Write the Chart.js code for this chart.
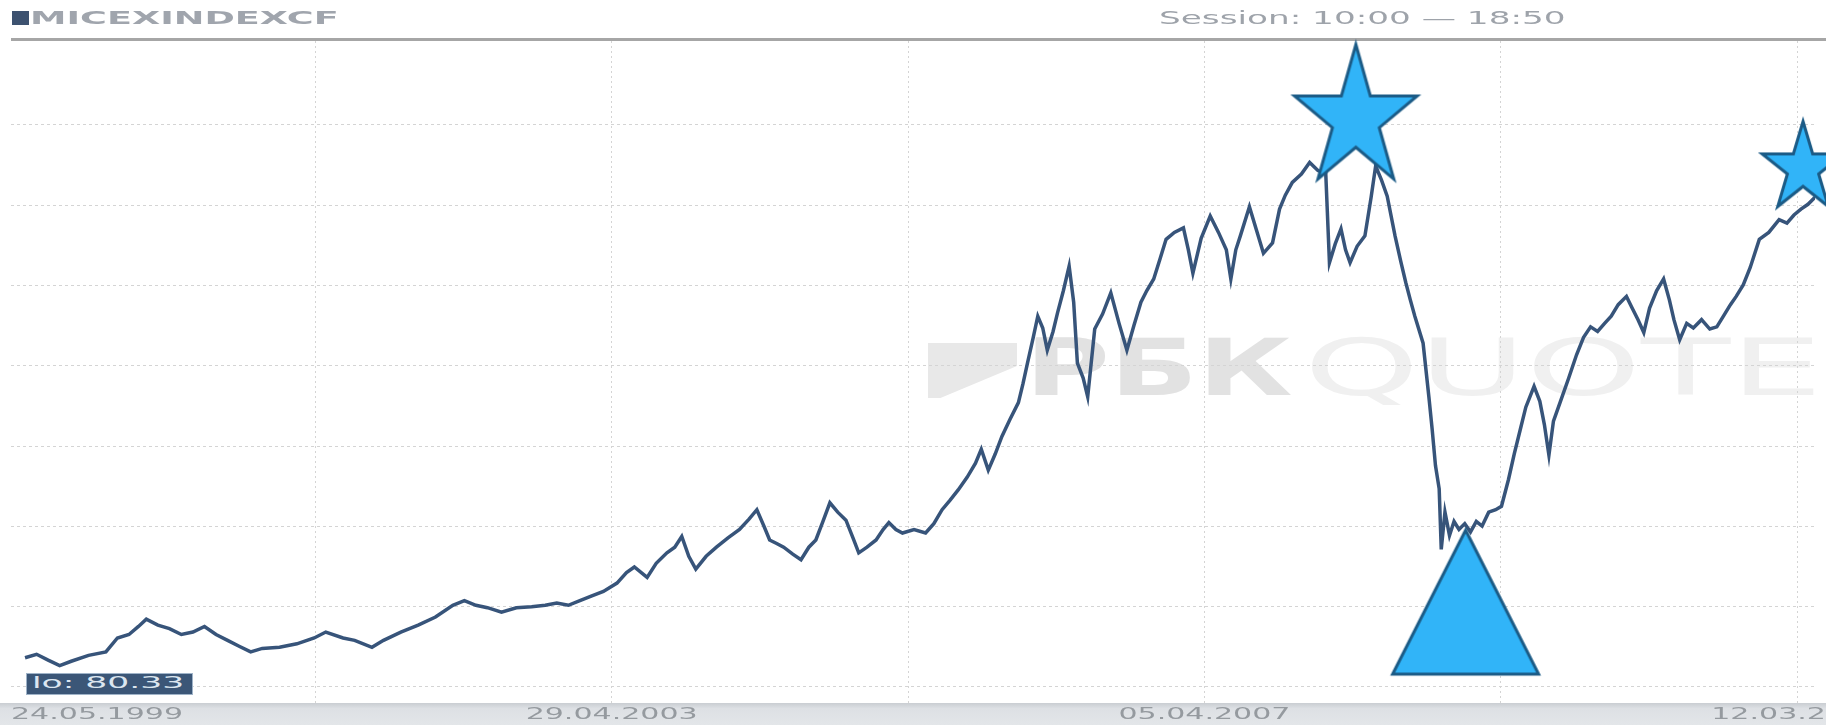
<!DOCTYPE html>
<html>
<head>
<meta charset="utf-8">
<script src="https://cdn.jsdelivr.net/npm/chart.js@4.4.0/dist/chart.umd.min.js"></script>
<style>
  html, body { margin: 0; padding: 0; background: #fff; }
  #wrap { position: relative; width: 1826px; height: 725px; overflow: hidden; font-family: "DejaVu Sans", sans-serif; }
  #wrap canvas { position: absolute; left: 0; top: 0; z-index: 1; }
  .txt { position: absolute; white-space: nowrap; transform-origin: 0 50%; }
  .wm { z-index: 0; }
  .top { z-index: 2; }
</style>
</head>
<body>
<div id="wrap">
  <div class="wm" style="position:absolute;left:928px;top:343px;width:89px;height:55px;background:#e8e8e8;clip-path:polygon(0 0,100% 0,100% 42%,14% 100%,0 100%);"></div>
  <span id="wmRbk" class="txt wm" style="left:1025px;top:329px;font-size:79px;line-height:79px;font-weight:bold;color:#e2e2e2;">РБК</span>
  <span id="wmQuote" class="txt wm" style="left:1304px;top:329px;font-size:79px;line-height:79px;color:#f0f0f0;">QUOTE</span>

  <canvas id="myChart" width="1826" height="725"></canvas>

  <div class="top" style="position:absolute;left:12px;top:11px;width:17px;height:14px;background:#3d5270;"></div>
  <span id="ticker" class="txt top" style="left:30px;top:10px;font-size:17px;line-height:17px;font-weight:bold;color:#a0a5ad;">MICEXINDEXCF</span>
  <span id="session" class="txt top" style="left:1159px;top:10px;font-size:17px;line-height:17px;color:#9ea3aa;">Session: 10:00 — 18:50</span>

  <div class="top" style="position:absolute;left:26px;top:673px;width:165px;height:20px;background:#3b5677;border:1px solid #9fb3c8;"></div>
  <span id="lo" class="txt top" style="left:32px;top:675px;font-size:15px;line-height:17px;color:#dce6f0;">lo: 80.33</span>
</div>

<script>
// days since 24.05.1999 and index values
const days = [14,42,70,98,126,168,210,238,266,289,308,336,364,393,421,449,477,505,533,561,589,631,673,715,743,785,813,855,883,925,967,1009,1051,1079,1107,1135,1169,1205,1242,1275,1303,1331,1359,1388,1416,
  1449,1472,1491,1522,1544,1570,1589,1606,1623,1640,1665,1690,1718,1746,1769,1788,1805,1819,1836,1853,
  1875,1895,1914,1931,1948,1965,1984,2004,2021,2035,2055,2077,2094,2108,2125,2141,2169,2197,2217,2237,
  2256,2276,2298,2318,2332,2349,2366,2382,2402,2422,2433,2444,2458,2469,2481,2492,2506,2517,2531,2545,
  2556,2565,2579,2590,2607,2626,2646,2666,2685,2702,2719,2733,2750,2766,2780,2800,2822,2834,2845,2865,
  2887,2907,2926,2937,2949,2960,2982,2999,3016,3038,3055,3069,3086,3108,3128,3148,3167,3176,3190,3204,
  3215,3226,3243,3262,3277,3288,3302,3316,3335,3349,3361,3372,3383,3403,3417,3425,3433,3442,3447,3456,
  3467,3478,3490,3504,3518,3532,3546,3562,3579,3593,3610,3624,3638,3652,3672,3686,3697,3708,3719,3736,
  3756,3775,3792,3809,3826,3843,3859,3876,3896,3910,3924,3938,3952,3969,3986,4000,4011,4025,4042,4058,
  4078,4098,4115,4134,4148,4162,4179,4196,4218,4241,4266,4285,4302,4319,4336,4353];
const values = [109,122,100,80,96,118,131,183,196,226,253,231,218,196,205,226,196,174,152,131,144,148,161,183,205,183,174,148,174,205,231,261,305,322,305,296,279,296,300,305,313,305,322,340,357,
  388,427,448,409,462,501,522,562,488,440,488,522,557,588,627,662,601,549,536,522,
  496,475,522,549,618,688,653,623,557,501,522,549,588,614,588,575,588,575,610,662,
  697,736,784,836,888,810,871,936,1001,1062,1132,1210,1306,1385,1341,1258,1328,1398,1480,1572,
  1437,1210,1154,1084,1337,1393,1472,1358,1258,1350,1437,1480,1524,1602,1672,1698,1715,1633,1546,1676,
  1759,1698,1633,1524,1633,1685,1794,1707,1620,1659,1785,1837,1885,1916,1959,1929,1920,1585,1655,1711,
  1633,1585,1646,1685,1829,1946,1894,1833,1685,1589,1511,1446,1385,1284,1084,962,827,740,514,653,
  566,618,588,610,579,618,601,653,662,675,775,871,958,1045,1123,1067,980,866,993,1067,
  1154,1241,1306,1345,1328,1358,1385,1428,1459,1415,1372,1324,1415,1480,1524,1446,1372,1297,1358,1341,
  1372,1337,1345,1393,1428,1459,1502,1567,1672,1698,1746,1733,1763,1785,1803,1829];

// highlight shapes: big star, small star, triangle
const markerDays = [3240, 4324, 3506];
const markerValues = [2148, 1952, 317];

const gridDays = [718, 1436, 2155, 2873, 3591, 4310];
const gridValues = [0, 300, 600, 900, 1200, 1500, 1800, 2100];
const dateDays = [0, 1436, 2873, 4310];
const dateLabels = ['24.05.1999', '29.04.2003', '05.04.2007', '12.03.2011'];

function fitWidth(id, target) {
    const el = document.getElementById(id);
    el.style.transform = 'scaleX(' + (target / el.offsetWidth) + ')';
}
fitWidth('ticker', 308);
fitWidth('session', 407);
fitWidth('lo', 152);
fitWidth('wmRbk', 268);
fitWidth('wmQuote', 518);

function starImage(r, ry, lw) {
    const m = lw * 3;
    const c = document.createElement('canvas');
    c.width = Math.ceil(2 * 0.951 * r + 2 * m);
    c.height = Math.ceil(1.809 * ry + 2 * m);
    const g = c.getContext('2d');
    const cx = c.width / 2, cy = m + ry;
    g.beginPath();
    for (let i = 0; i < 10; i++) {
        const a = -Math.PI / 2 + i * Math.PI / 5;
        const k = i % 2 ? 0.382 : 1;
        g.lineTo(cx + Math.cos(a) * r * k, cy + Math.sin(a) * ry * k);
    }
    g.closePath();
    g.fillStyle = '#31b4f8';
    g.fill();
    g.lineWidth = lw;
    g.strokeStyle = '#1b5b86';
    g.stroke();
    return c;
}

function triangleImage(w, h, lw) {
    const c = document.createElement('canvas');
    c.width = w + lw * 4;
    c.height = h + lw * 4;
    const g = c.getContext('2d');
    g.beginPath();
    g.moveTo(c.width / 2, lw * 2);
    g.lineTo(c.width - lw * 2, lw * 2 + h);
    g.lineTo(lw * 2, lw * 2 + h);
    g.closePath();
    g.fillStyle = '#31b4f8';
    g.fill();
    g.lineWidth = lw;
    g.strokeStyle = '#1b5b86';
    g.stroke();
    return c;
}

const markerStyles = [starImage(64.5, 74.4, 3), starImage(43, 47, 3), triangleImage(146, 144, 3)];

const frame = {
    id: 'frame',
    beforeDraw(chart) {
        const ctx = chart.ctx;
        const area = chart.chartArea;
        ctx.save();
        // top rule
        ctx.fillStyle = '#a6a6a6';
        ctx.fillRect(area.left, area.top - 3, chart.width - area.left, 3);
        // bottom date band
        const grad = ctx.createLinearGradient(0, area.bottom, 0, chart.height);
        grad.addColorStop(0, '#c9cdd2');
        grad.addColorStop(0.25, '#dde0e4');
        grad.addColorStop(1, '#e3e6e9');
        ctx.fillStyle = grad;
        ctx.fillRect(0, area.bottom, chart.width, chart.height - area.bottom);
        ctx.restore();
    },
    afterDraw(chart) {
        const ctx = chart.ctx;
        const xs = chart.scales.x;
        const area = chart.chartArea;
        const y = (area.bottom + chart.height) / 2 + 1;
        ctx.save();
        ctx.font = '15px "DejaVu Sans"';
        ctx.fillStyle = '#959a9f';
        ctx.textBaseline = 'middle';
        dateLabels.forEach(function (label, i) {
            const w = ctx.measureText(label).width;
            const target = 172;
            let left = xs.getPixelForValue(dateDays[i]) - target / 2;
            if (left < area.left) left = area.left;
            ctx.save();
            ctx.translate(left, y);
            ctx.scale(target / w, 1);
            ctx.fillText(label, 0, 0);
            ctx.restore();
        });
        ctx.restore();
    }
};

var ctx = document.getElementById('myChart').getContext('2d');
var myChart = new Chart(ctx, {
    type: 'line',
    data: {
        datasets: [
            {
                label: 'markers',
                data: markerDays.map(function (d, i) { return { x: d, y: markerValues[i] }; }),
                showLine: false,
                pointStyle: markerStyles,
                pointRadius: 10,
                clip: false,
                order: 0
            },
            {
                label: 'MICEXINDEXCF',
                data: days.map(function (d, i) { return { x: d, y: values[i] }; }),
                borderColor: '#37547a',
                borderWidth: 3.5,
                pointRadius: 0,
                tension: 0,
                fill: false,
                order: 1
            }
        ]
    },
    options: {
        responsive: false,
        animation: false,
        events: [],
        layout: { padding: { left: 9, right: 0, top: 41, bottom: 22 } },
        plugins: { legend: { display: false }, tooltip: { enabled: false } },
        scales: {
            x: {
                type: 'linear',
                min: -20,
                max: 4353,
                afterBuildTicks: function (scale) {
                    scale.ticks = gridDays.map(function (v) { return { value: v }; });
                },
                ticks: { display: false },
                grid: { color: '#d4d4d4', lineWidth: 1, drawTicks: false },
                border: { display: false, dash: [2, 3] }
            },
            y: {
                type: 'linear',
                min: -60,
                max: 2413,
                afterBuildTicks: function (scale) {
                    scale.ticks = gridValues.map(function (v) { return { value: v }; });
                },
                ticks: { display: false },
                grid: { color: '#d4d4d4', lineWidth: 1, drawTicks: false },
                border: { display: false, dash: [3, 3] }
            }
        }
    },
    plugins: [frame]
});
</script>
</body>
</html>
